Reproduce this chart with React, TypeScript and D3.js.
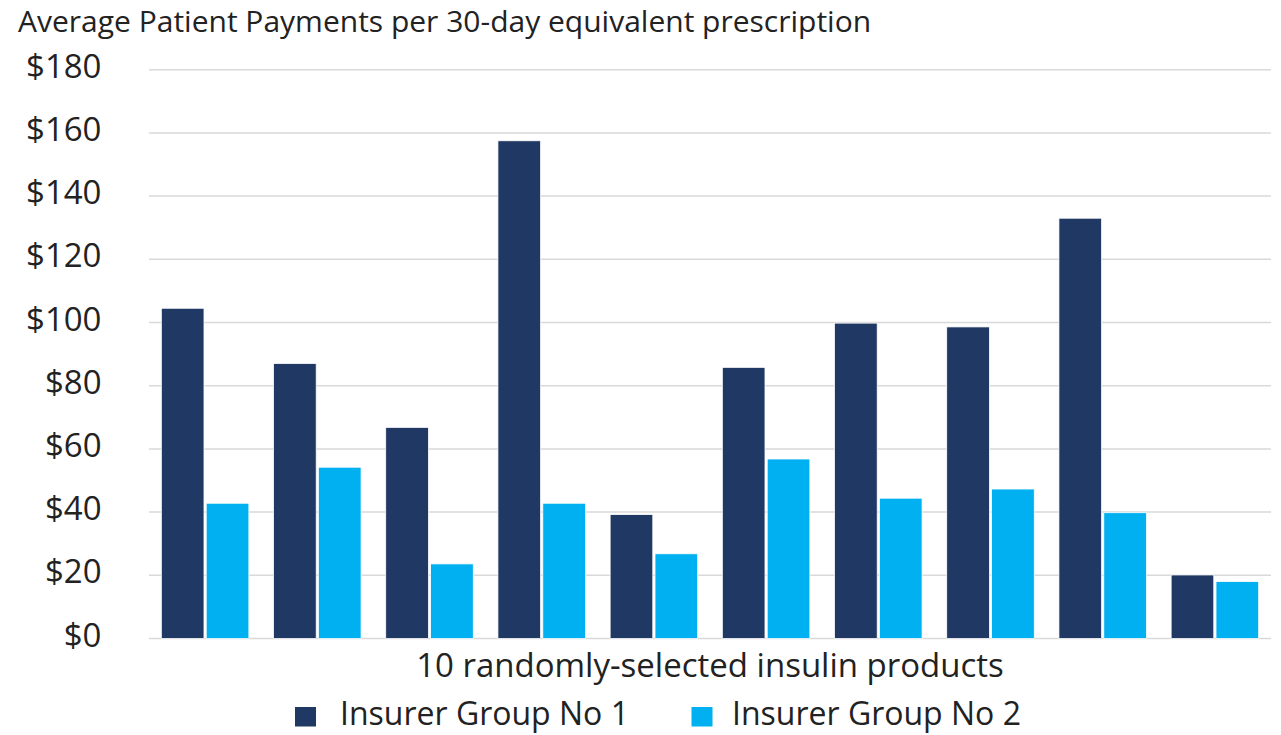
import React from "react";
import * as d3 from "d3";

const categories = ["P1", "P2", "P3", "P4", "P5", "P6", "P7", "P8", "P9", "P10"];
const group1 = [104.5, 87, 66.8, 157.5, 39.2, 85.8, 99.8, 98.6, 133, 20.1];
const group2 = [42.8, 54.2, 23.6, 42.8, 26.8, 56.8, 44.4, 47.3, 39.8, 18];
const seriesNames = ["Insurer Group No 1", "Insurer Group No 2"];
const yTicks = [0, 20, 40, 60, 80, 100, 120, 140, 160, 180];

const W = 1281;
const H = 735;
const colors = ["#203864", "#00B0F0"];
const FONT = "'Open Sans', sans-serif";

export default function App() {
  const left = 149;
  const right = 1271;
  const top = 69.7;
  const bottom = 638.5;

  const y = d3.scaleLinear().domain([0, 180]).range([bottom, top]);
  const x0 = d3.scaleBand<string>().domain(categories).range([left, right]).paddingInner(0.22).paddingOuter(0.11);
  const x1 = d3.scaleBand<string>().domain(seriesNames).range([0, x0.bandwidth()]).paddingInner(0.05);
  const series = [group1, group2];

  return (
    <svg width={W} height={H} style={{ position: "absolute", left: 0, top: 0, background: "#fff" }} fontFamily={FONT}>
      <rect x={0} y={0} width={W} height={H} fill="#fff" />
      <text x={18} y={32} fontSize={30} fill="#222">Average Patient Payments per 30-day equivalent prescription</text>
      {yTicks.map((t) => (
        <g key={t}>
          <line x1={left} x2={right} y1={y(t)} y2={y(t)} stroke="#D9D9D9" strokeWidth={1.5} />
          <text x={101.5} y={y(t) + 8} textAnchor="end" fontSize={33} fill="#222">{d3.format("$,.0f")(t)}</text>
        </g>
      ))}
      {categories.map((c, i) => (
        <g key={c}>
          {series.map((s, j) => (
            <rect
              key={j}
              x={(x0(c) as number) + (x1(seriesNames[j]) as number)}
              y={y(s[i])}
              width={x1.bandwidth()}
              height={bottom - y(s[i])}
              fill={colors[j]}
              stroke="#fff"
              strokeWidth={0.75}
            />
          ))}
        </g>
      ))}
      <text x={(left + right) / 2} y={677} textAnchor="middle" fontSize={33} fill="#222">10 randomly-selected insulin products</text>
      {seriesNames.map((n, j) => (
        <g key={n} transform={`translate(${[295, 691.5][j]},0)`}>
          <rect x={0} y={707} width={21} height={19.5} fill={colors[j]} />
          <text x={[45, 40.5][j]} y={725} fontSize={32} fill="#222">{n}</text>
        </g>
      ))}
    </svg>
  );
}
